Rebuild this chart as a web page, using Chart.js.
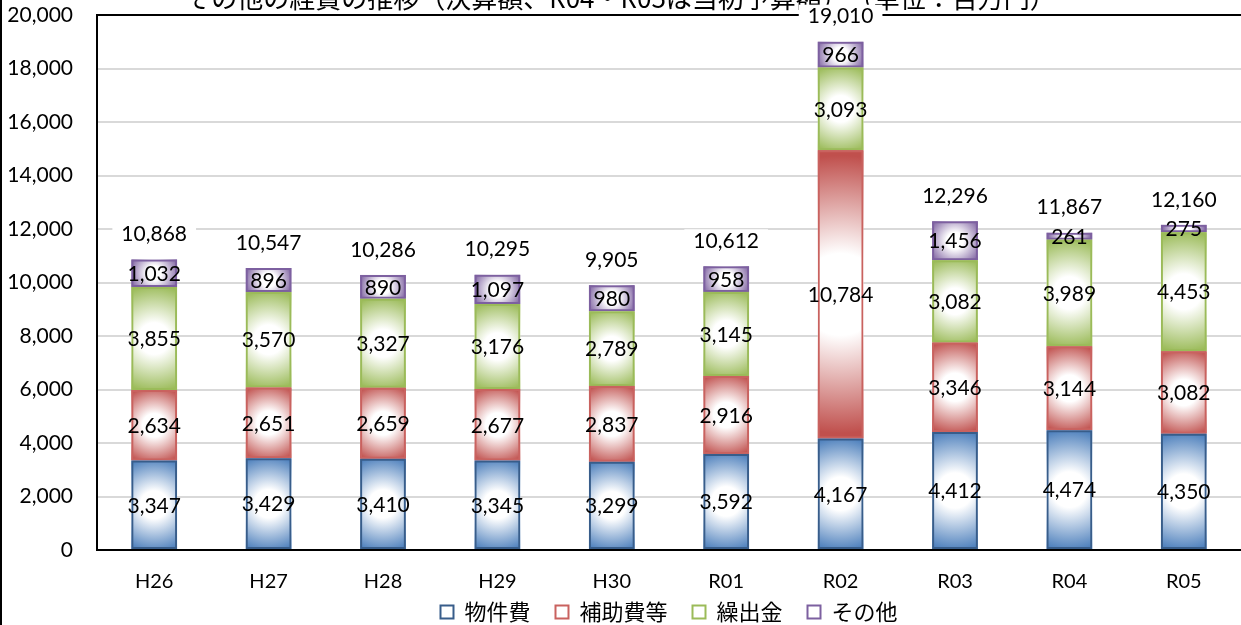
<!DOCTYPE html>
<html lang="ja">
<head>
<meta charset="utf-8">
<script src="https://cdn.jsdelivr.net/npm/chart.js@4.4.1/dist/chart.umd.min.js"></script>
<style>
    html, body { margin: 0; padding: 0; background: #fff; overflow: hidden; }
    #wrap { position: absolute; left: 0; top: -28px; width: 1241px; height: 661px; }
    #frame { position: absolute; left: 0; top: 0; width: 2px; height: 625px; background: #000; }
</style>
</head>
<body>
<div id="wrap"><canvas id="costChart"></canvas></div>
<div id="frame"></div>
<script>
const years = ['H26', 'H27', 'H28', 'H29', 'H30', 'R01', 'R02', 'R03', 'R04', 'R05'];
const buppinhi = [3347, 3429, 3410, 3345, 3299, 3592, 4167, 4412, 4474, 4350];
const hojohi = [2634, 2651, 2659, 2677, 2837, 2916, 10784, 3346, 3144, 3082];
const kuridashikin = [3855, 3570, 3327, 3176, 2789, 3145, 3093, 3082, 3989, 4453];
const sonota = [1032, 896, 890, 1097, 980, 958, 966, 1456, 261, 275];
const totals = [10868, 10547, 10286, 10295, 9905, 10612, 19010, 12296, 11867, 12160];
const yTicks = [0, 2000, 4000, 6000, 8000, 10000, 12000, 14000, 16000, 18000, 20000];

const numFont = 'Lato, "Noto Sans CJK JP", sans-serif';
const jpFont = '"Noto Sans CJK JP", sans-serif';
const fmt = v => v.toLocaleString('en-US');

// edge colour of each series (centre of every bar fades to white)
const edgeColors = ['#4f81bd', '#c0504d', '#9bbb59', '#8064a2'];

const gradientFill = {
    id: 'gradientFill',
    beforeDatasetDraw(chart, args) {
        const ctx = chart.ctx;
        const edge = edgeColors[args.index];
        args.meta.data.forEach(bar => {
            const {x, y, base, width} = bar.getProps(['x', 'y', 'base', 'width'], true);
            const top = Math.min(y, base);
            const h = Math.abs(base - y);
            const cy = top + h / 2;
            const r = Math.hypot(width / 2, h / 2);
            const g = ctx.createRadialGradient(x, cy, 0, x, cy, r);
            g.addColorStop(0, '#ffffff');
            g.addColorStop(0.28, '#ffffff');
            g.addColorStop(0.95, edge);
            g.addColorStop(1, edge);
            ctx.save();
            ctx.fillStyle = g;
            ctx.fillRect(x - width / 2, top, width, h);
            ctx.restore();
        });
    }
};

const valueLabels = {
    id: 'valueLabels',
    afterDatasetsDraw(chart) {
        const ctx = chart.ctx;
        ctx.save();
        ctx.font = '21px ' + numFont;
        ctx.textAlign = 'center';
        ctx.textBaseline = 'middle';
        ctx.fillStyle = '#000';
        chart.data.datasets.forEach((ds, di) => {
            chart.getDatasetMeta(di).data.forEach((bar, i) => {
                const {x, y, base} = bar.getProps(['x', 'y', 'base'], true);
                ctx.fillText(fmt(ds.data[i]), x, (y + base) / 2 + 1);
            });
        });
        const topMeta = chart.getDatasetMeta(chart.data.datasets.length - 1);
        topMeta.data.forEach((bar, i) => {
            const {x, y} = bar.getProps(['x', 'y'], true);
            const text = fmt(totals[i]);
            const w = ctx.measureText(text).width + 18;
            const ty = y - 25;
            ctx.fillStyle = '#fff';
            ctx.fillRect(x - w / 2, ty - 12, w, 24);
            ctx.fillStyle = '#000';
            ctx.fillText(text, x, ty);
        });
        ctx.restore();
    }
};

const ctx = document.getElementById('costChart').getContext('2d');
const costChart = new Chart(ctx, {
    type: 'bar',
    data: {
        labels: years,
        datasets: [
            { label: '物件費', data: buppinhi, borderColor: '#385d8a' },
            { label: '補助費等', data: hojohi, borderColor: '#c9625f' },
            { label: '繰出金', data: kuridashikin, borderColor: '#9bbb59' },
            { label: 'その他', data: sonota, borderColor: '#7d60a0' }
        ].map(ds => Object.assign(ds, {
            backgroundColor: 'rgba(0,0,0,0)',
            borderWidth: 2,
            borderSkipped: false,
            barPercentage: 0.4,
            categoryPercentage: 1
        }))
    },
    options: {
        responsive: true,
        maintainAspectRatio: false,
        animation: false,
        layout: { padding: { left: 0, right: 0, top: 0, bottom: 0 } },
        scales: {
            x: {
                stacked: true,
                grid: { display: false, drawTicks: false },
                border: { display: true, color: '#000', width: 2 },
                ticks: { color: '#000', padding: 20, font: { family: numFont, size: 20 } },
                afterFit: scale => { scale.height = 48; }
            },
            y: {
                stacked: true,
                min: 0,
                max: 20000,
                afterBuildTicks: scale => { scale.ticks = yTicks.map(v => ({ value: v })); },
                grid: {
                    drawTicks: false,
                    color: c => (c.tick && c.tick.value === 20000 ? '#000' : '#d9d9d9'),
                    lineWidth: 2
                },
                border: { display: true, color: '#000', width: 2 },
                ticks: {
                    color: '#000',
                    padding: 24,
                    font: { family: numFont, size: 21 },
                    callback: v => fmt(v)
                },
                afterFit: scale => { scale.width = 97; }
            }
        },
        plugins: {
            title: {
                display: true,
                text: 'その他の経費の推移（決算額、R04・R05は当初予算額）　（単位：百万円）',
                color: '#000',
                font: { family: jpFont, size: 26, weight: 'normal' },
                padding: { top: 11, bottom: 1 }
            },
            legend: {
                position: 'bottom',
                fullSize: false,
                labels: {
                    color: '#000',
                    boxWidth: 13,
                    boxHeight: 13,
                    padding: 3,
                    font: { family: jpFont, size: 22 },
                    generateLabels: chart => {
                        const items = Chart.defaults.plugins.legend.labels.generateLabels(chart);
                        items.forEach((it, i) => {
                            if (i < items.length - 1) it.text += '　';
                        });
                        return items;
                    }
                }
            },
            tooltip: { enabled: false }
        }
    },
    plugins: [gradientFill, valueLabels]
});
</script>
</body>
</html>
